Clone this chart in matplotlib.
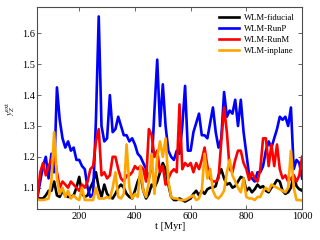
import numpy as np
import matplotlib
matplotlib.use("Agg")
import matplotlib.pyplot as plt

plt.rcParams['font.family'] = ['Liberation Serif', 'DejaVu Serif']
plt.rcParams['mathtext.fontset'] = 'stix'

t = np.arange(50, 1001, 10)

fiducial = [1.067, 1.065, 1.065, 1.075, 1.09, 1.09, 1.12, 1.075, 1.07, 1.09,
            1.075, 1.07, 1.07, 1.075, 1.10, 1.135, 1.08, 1.07, 1.075, 1.10,
            1.12, 1.15, 1.10, 1.07, 1.11, 1.08, 1.07, 1.065, 1.08, 1.10,
            1.11, 1.10, 1.08, 1.07, 1.065, 1.09, 1.12, 1.14, 1.09, 1.065,
            1.08, 1.11, 1.10, 1.12, 1.15, 1.18, 1.16, 1.11, 1.07, 1.06,
            1.06, 1.065, 1.06, 1.055, 1.06, 1.065, 1.08, 1.09, 1.075, 1.09,
            1.08, 1.095, 1.10, 1.10, 1.105, 1.14, 1.16, 1.13, 1.11, 1.115,
            1.10, 1.105, 1.12, 1.135, 1.13, 1.09, 1.10, 1.085, 1.095, 1.11,
            1.10, 1.105, 1.09, 1.085, 1.10, 1.11, 1.125, 1.12, 1.09, 1.08,
            1.085, 1.10, 1.14, 1.105, 1.095, 1.09]

runp = [1.07, 1.12, 1.17, 1.20, 1.13, 1.21, 1.15, 1.425, 1.32, 1.26,
        1.23, 1.25, 1.22, 1.23, 1.19, 1.19, 1.17, 1.16, 1.10, 1.07,
        1.08, 1.32, 1.655, 1.30, 1.25, 1.26, 1.40, 1.28, 1.29, 1.33,
        1.30, 1.27, 1.27, 1.25, 1.26, 1.24, 1.21, 1.20, 1.18, 1.16,
        1.13, 1.17, 1.35, 1.515, 1.30, 1.435, 1.30, 1.22, 1.20, 1.19,
        1.22, 1.21, 1.30, 1.43, 1.22, 1.22, 1.28, 1.31, 1.34, 1.27,
        1.27, 1.26, 1.31, 1.36, 1.28, 1.23, 1.26, 1.41, 1.33, 1.35,
        1.34, 1.385, 1.30, 1.385, 1.28, 1.21, 1.14, 1.13, 1.12, 1.15,
        1.15, 1.17, 1.22, 1.25, 1.23, 1.26, 1.29, 1.33, 1.32, 1.33,
        1.30, 1.36, 1.16, 1.19, 1.18, 1.13]

runm = [1.07, 1.15, 1.18, 1.14, 1.17, 1.19, 1.21, 1.15, 1.10, 1.12,
        1.11, 1.10, 1.12, 1.11, 1.10, 1.09, 1.11, 1.10, 1.12, 1.16,
        1.17, 1.25, 1.29, 1.14, 1.15, 1.13, 1.14, 1.20, 1.20, 1.16,
        1.13, 1.12, 1.14, 1.14, 1.15, 1.17, 1.16, 1.17, 1.16, 1.12,
        1.29, 1.27, 1.20, 1.22, 1.15, 1.17, 1.11, 1.13, 1.15, 1.16,
        1.15, 1.37, 1.16, 1.18, 1.17, 1.18, 1.15, 1.18, 1.16, 1.19,
        1.23, 1.17, 1.13, 1.12, 1.12, 1.13, 1.25, 1.36, 1.28, 1.16,
        1.15, 1.19, 1.22, 1.22, 1.18, 1.16, 1.125, 1.15, 1.13, 1.12,
        1.16, 1.26, 1.26, 1.17, 1.24, 1.17, 1.24, 1.16, 1.13, 1.14,
        1.12, 1.13, 1.14, 1.12, 1.14, 1.20]

inplane = [1.062, 1.06, 1.06, 1.062, 1.065, 1.12, 1.28, 1.13, 1.08, 1.10,
           1.07, 1.09, 1.065, 1.075, 1.065, 1.06, 1.10, 1.06, 1.06, 1.06,
           1.06, 1.10, 1.065, 1.065, 1.065, 1.07, 1.065, 1.10, 1.15, 1.07,
           1.065, 1.08, 1.24, 1.10, 1.065, 1.08, 1.07, 1.17, 1.09, 1.07,
           1.12, 1.21, 1.08, 1.20, 1.25, 1.20, 1.26, 1.12, 1.07, 1.065,
           1.065, 1.06, 1.06, 1.06, 1.065, 1.07, 1.075, 1.06, 1.065, 1.09,
           1.21, 1.13, 1.16, 1.09, 1.07, 1.065, 1.075, 1.09, 1.15, 1.19,
           1.14, 1.12, 1.10, 1.085, 1.13, 1.07, 1.065, 1.065, 1.06, 1.07,
           1.07, 1.09, 1.10, 1.09, 1.11, 1.105, 1.10, 1.095, 1.09, 1.085,
           1.10, 1.22, 1.10, 1.06, 1.06, 1.058]

labels = ['WLM-fiducial', 'WLM-RunP', 'WLM-RunM', 'WLM-inplane']
colors = ['black', 'blue', 'red', 'orange']

fig = plt.figure(figsize=(3.2, 2.4), dpi=100)
ax = fig.add_axes([0.117, 0.128, 0.827, 0.842])

for ys, lab, c in zip([fiducial, runp, runm, inplane], labels, colors):
    ax.plot(t, ys, color=c, lw=1.9, label=lab)

ax.set_xlim(50, 1000)
ax.set_ylim(1.03, 1.685)
ax.set_xticks([200, 400, 600, 800, 1000])
ax.set_yticks([1.1, 1.2, 1.3, 1.4, 1.5, 1.6])
ax.tick_params(direction='in', top=True, right=True, labelsize=7.5,
               length=3, width=0.6, color='0.3', pad=2)
for s in ax.spines.values():
    s.set_color('0.3')
    s.set_linewidth(0.8)

ax.set_xlabel('t [Myr]', fontsize=7.5, labelpad=1)
ax.set_ylabel(r'$y_Z^{\rm ext}$', fontsize=6.5, labelpad=3)

ax.legend(loc='upper right', frameon=False, fontsize=6.2, handlelength=2.3,
          handletextpad=0.6, labelspacing=0.35, borderaxespad=0.4)

fig.savefig('out.png', dpi=100)
